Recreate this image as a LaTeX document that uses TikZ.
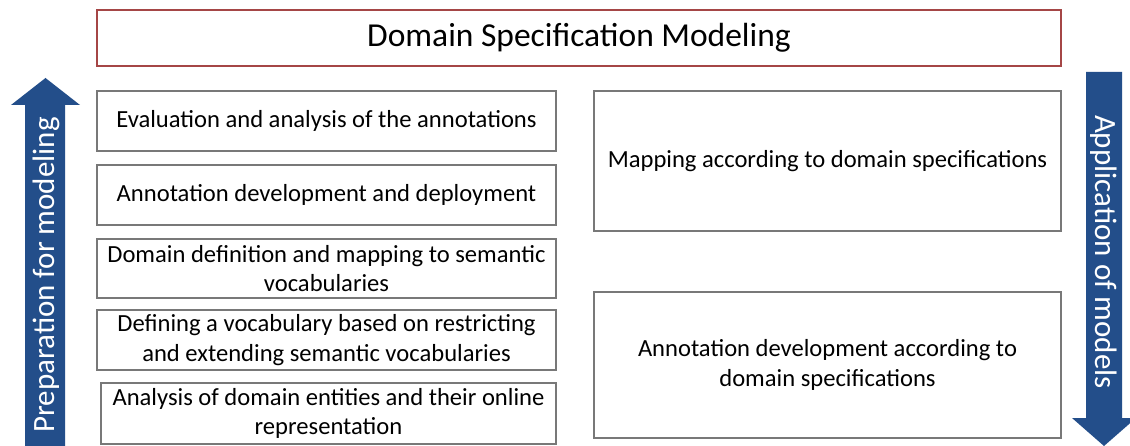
\documentclass[tikz,border=0pt]{standalone}
\usepackage{fontspec}
\setmainfont{Carlito}
\definecolor{arrowblue}{RGB}{35,78,138}
\definecolor{titlered}{RGB}{165,70,70}
\definecolor{boxgray}{RGB}{120,120,120}
\begin{document}
\begin{tikzpicture}[x=1pt,y=-1pt,
  stepbox/.style={draw=boxgray,line width=1.2pt,rectangle,inner sep=0pt,outer sep=0pt,align=center,
    font=\fontsize{24.6}{29.5}\selectfont,anchor=north west},
  titlebox/.style={draw=titlered,line width=1.2pt,rectangle,inner sep=0pt,outer sep=0pt,align=center,
    font=\fontsize{33.5}{38}\selectfont,anchor=north west},
  arrowtext/.style={text=white,font=\fontsize{31}{34}\selectfont,inner sep=0pt}]
\useasboundingbox (0,0) rectangle (1130,446);
\fill[white] (0,0) rectangle (1130,446);
\begin{scope}
\clip (0,0) rectangle (1130,446);
\fill[arrowblue] (25,446) -- (25,105) -- (11,105) -- (45.5,78) -- (80,105) -- (65,105) -- (65,446) -- cycle;
\fill[arrowblue] (1086,72) -- (1122,72) -- (1122,418) -- (1136,418) -- (1104,446) -- (1072,418) -- (1086,418) -- cycle;
\end{scope}
\node[arrowtext,rotate=90] (prep) at (46,275) {Preparation for modeling};
\node[arrowtext,rotate=-90] (appl) at (1104,252) {Application of models};
\node[titlebox,minimum width=964pt,minimum height=56pt] (title) at (97,10) {Domain Specification Modeling};
\node[stepbox,minimum width=459pt,minimum height=60pt] (b1) at (97,91) {Evaluation and analysis of the annotations};
\node[stepbox,minimum width=459pt,minimum height=60pt] (b2) at (97,165) {Annotation development and deployment};
\node[stepbox,minimum width=459pt,minimum height=59pt] (b3) at (97,239) {Domain definition and mapping to semantic\\vocabularies};
\node[stepbox,minimum width=459pt,minimum height=60pt] (b4) at (97,310) {Defining a vocabulary based on restricting\\and extending semantic vocabularies};
\node[stepbox,minimum width=455pt,minimum height=61pt] (b5) at (101,383) {Analysis of domain entities and their online\\representation};
\node[stepbox,minimum width=467pt,minimum height=140pt] (r1) at (594,91) {Mapping according to domain specifications};
\node[stepbox,minimum width=467pt,minimum height=146pt] (r2) at (594,292) {Annotation development according to\\domain specifications};
\end{tikzpicture}
\end{document}
